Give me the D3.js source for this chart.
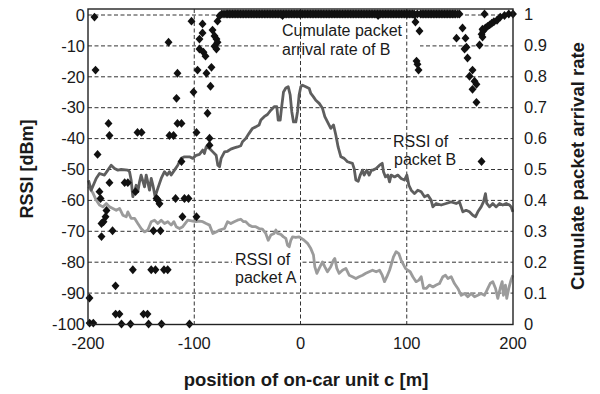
<!DOCTYPE html>
<html>
<head>
<meta charset="utf-8">
<script src="https://cdn.jsdelivr.net/npm/d3@7"></script>
<style>
  body { margin: 0; background: #fff; }
  svg text { font-family: "Liberation Sans", Arial, Helvetica, sans-serif; fill: #1a1a1a; }
</style>
</head>
<body>
<svg id="chart" width="600" height="394"></svg>
<script>
/************************************ Data *******************************/
var xTicks = [-200, -100, 0, 100, 200];
var yTicks = [0, -10, -20, -30, -40, -50, -60, -70, -80, -90, -100];
var rateTicks = [1, 0.9, 0.8, 0.7, 0.6, 0.5, 0.4, 0.3, 0.2, 0.1, 0];
var rateTickLabels = ["1", "0.9", "0.8", "0.7", "0.6", "0.5", "0.4", "0.3", "0.2", "0.1", "0"];

// RSSI of packet B  [position m, dBm]
var rssiB = [[-199.5,-53.5],[-197,-56.7],[-192.3,-52.9],[-189.2,-51.3],[-184.5,-51.8],[-181.3,-50.2],[-178.2,-48.6],
  [-175,-49.7],[-171.9,-50.2],[-168.8,-50],[-162.5,-50.2],[-160.9,-50.7],[-159.4,-53.4],[-157.8,-58.8],[-156.2,-57.2],
  [-154.7,-55.1],[-153.1,-57.2],[-151.5,-54],[-150,-51.8],[-146.8,-55.6],[-145.2,-51.8],[-142.1,-56.7],[-140.5,-52.9],
  [-138.9,-55.1],[-136.8,-58.8],[-134.3,-56.1],[-131.1,-52.9],[-128,-50.7],[-125.5,-51.8],[-123.3,-50.7],[-121.7,-51.8],
  [-118.6,-50.2],[-115.5,-48.6],[-112.3,-46.4],[-109.2,-45.9],[-104.5,-45.9],[-101.4,-46.4],[-98.2,-45.4],[-95.1,-45.1],
  [-92,-43.7],[-90.4,-44.8],[-88.8,-42.7],[-85.6,-43.2],[-82.5,-44.3],[-79.4,-45.4],[-77.8,-48.6],[-76.2,-49.1],
  [-74.7,-46.4],[-71.5,-44.3],[-68.7,-44.1],[-65.6,-43.4],[-62.4,-43],[-59.3,-42.7],[-56.2,-42.3],[-54.6,-41],
  [-51.5,-40],[-48.4,-38.3],[-45.2,-36.7],[-42.1,-36.2],[-39,-35.6],[-37.3,-34],[-34.2,-32.9],[-31.1,-32.2],
  [-27.9,-30.8],[-24.8,-29.7],[-22.3,-29.7],[-21,-34],[-19.1,-34],[-17.9,-30.2],[-16,-24.9],[-13.8,-23.6],
  [-11.6,-23.2],[-9.7,-25.9],[-8.2,-31.3],[-6.6,-34.6],[-4.4,-34.6],[-2.8,-31.3],[-1.3,-25.9],[0.3,-23.2],
  [1.9,-22.7],[5,-23.2],[8.2,-23.8],[9.7,-25.4],[12.2,-26.5],[14.4,-27.6],[17.6,-28.6],[20.7,-30.2],[22.9,-32.9],
  [25.4,-34.6],[28.5,-36.7],[31.1,-35.6],[33.3,-38.9],[35.4,-42.7],[38,-45.9],[41.1,-46.4],[44.2,-47.5],[48.9,-48],
  [50.5,-49.7],[52.1,-53.4],[54.3,-53.8],[56.2,-51.8],[58.4,-50.2],[59.9,-51.8],[62.4,-50.2],[64.6,-51.8],[66.8,-50.2],
  [68.1,-50.2],[71.2,-49.7],[74.4,-48.6],[76.9,-48],[78.1,-50.7],[80,-52.4],[82.2,-51.8],[83.8,-54],[85.3,-51.8],
  [88.5,-52.4],[91.6,-51.8],[94.7,-52.9],[97.9,-53.4],[100.1,-51.8],[102,-55.1],[104.2,-56.7],[107.3,-57.8],
  [110.4,-56.7],[113.6,-57.2],[116.7,-58.8],[119.8,-58.3],[122.9,-59.9],[124.6,-62.1],[127.7,-61],[132.4,-61.5],
  [137.1,-61],[141.8,-60.5],[146.5,-61],[149.6,-60.5],[152.8,-63.7],[155.9,-63.2],[159,-63.7],[162.2,-64.8],
  [164.7,-65.3],[166.9,-63.7],[170,-62.1],[172.2,-60.5],[174.1,-57.8],[175.3,-61],[177.9,-62.1],[181,-61],
  [184.2,-62.1],[187.3,-61],[190.4,-61.5],[193.6,-61],[196.7,-61.5],[198.3,-62.1],[199.8,-63.7]];

// RSSI of packet A  [position m, dBm]
var rssiA = [[-199.5,-55.5],[-195.5,-57.5],[-192.3,-59.9],[-189.2,-61.5],[-186,-62.1],[-182.8,-61],[-179.7,-62.1],
  [-176.6,-62.6],[-173.4,-63.2],[-170.3,-62.6],[-167.2,-64.8],[-164,-65.3],[-162.5,-63.7],[-159.4,-65.8],[-156.2,-65.8],
  [-153.1,-67.5],[-150,-69.1],[-146.8,-70.2],[-143.7,-69.6],[-140.5,-66.9],[-137.4,-66.4],[-134.3,-67.5],[-131.1,-66.4],
  [-128,-67.5],[-124.9,-66.9],[-121.7,-68],[-119.2,-66.9],[-117,-68.5],[-113.9,-69.1],[-110.8,-68.5],[-106.1,-66.4],
  [-101.4,-66.7],[-98.2,-66.9],[-95.1,-66.7],[-92,-66.9],[-88.8,-67.5],[-85.6,-68],[-82.5,-70.7],[-79.4,-70.2],
  [-76.2,-69.6],[-71.5,-69.1],[-68.7,-66.9],[-65.6,-67.5],[-62.4,-66.9],[-59.3,-66.4],[-56.2,-66.1],[-53.6,-66.9],
  [-51.5,-66.9],[-48.4,-68],[-45.2,-68.5],[-42.1,-68.5],[-39,-69.1],[-35.8,-69.3],[-32.7,-70.7],[-30.4,-72.9],
  [-27.9,-71.2],[-24.8,-70.7],[-23.2,-69.6],[-21.6,-70.7],[-18.5,-71],[-16,-71.8],[-13.8,-72.3],[-12.2,-74.5],
  [-10.6,-75],[-9.1,-72.9],[-7.5,-71.8],[-4.4,-72],[-1.3,-71.8],[0.9,-72.3],[3.4,-72.9],[6.6,-73.9],[9.7,-75.6],
  [12.2,-77.7],[13.5,-81.5],[15.4,-83.6],[17.6,-82],[20.7,-79.9],[22.9,-81.5],[25.4,-83.1],[28.5,-81.5],[31.1,-79.3],
  [32.3,-78.8],[34.2,-82],[36.4,-83.6],[39.5,-82.6],[42.7,-82],[45.8,-84.2],[48.9,-84.7],[52.1,-85.3],[55.2,-84.7],
  [58.4,-84.2],[61.5,-83.6],[64.6,-83.1],[67.8,-82.6],[71.2,-83.1],[74.4,-82.6],[76.9,-84.2],[79.1,-86.3],[81.3,-84.7],
  [83.8,-82.6],[85.3,-80.9],[87.5,-78.3],[90,-76.6],[92.5,-77.2],[94.7,-79.3],[96.3,-80.4],[98.8,-82],[101,-82.6],
  [103.2,-83.1],[105.7,-84.7],[108.8,-86.3],[111.4,-85.8],[113.6,-84.7],[115.8,-88.5],[118.3,-88.5],[121.4,-87.4],
  [124.6,-88],[127.7,-87.4],[130.8,-86.9],[134,-84.7],[136.5,-84.2],[138.7,-85.3],[141.8,-84.7],[144.9,-86.9],
  [148.1,-88.5],[151.3,-90.7],[154.4,-90.1],[157.5,-91.2],[160.6,-90.1],[163.8,-91.2],[166.9,-90.7],[170,-90.1],
  [173.2,-90.7],[176.3,-88.5],[178.5,-86.9],[181,-86.3],[183.6,-88.5],[185.7,-91.7],[187.9,-88.5],[189.8,-86.3],
  [191,-90.7],[192.9,-87.4],[194.1,-91.7],[196,-88.5],[198.1,-85.8],[199.8,-84.2]];

// cumulate packet arrival rate of B, scattered points [position m, rate]
var rateB = [[-193.9,0.99],[-124.2,0.909],[-102.6,0.977],[-92.2,0.968],[-92.2,0.939],[-95.1,0.919],[-82.8,0.948],
  [-80.9,0.929],[-79.1,0.919],[-78.1,0.909],[-80.9,0.896],[-79.1,0.887],[-95.1,0.887],[-91.3,0.877],[-89.4,0.864],
  [-78.1,0.977],[-76.2,0.994],[-192.9,0.819],[-115.8,0.809],[-96.9,0.819],[-88.5,0.809],[-83.8,0.828],[-84.7,0.767],
  [-100.7,0.748],[-116.7,0.728],[-87.5,0.68],[-180.7,0.647],[-179.8,0.608],[-153.4,0.618],[-149.6,0.618],
  [-115.8,0.647],[-112,0.647],[-123.3,0.608],[-119.5,0.608],[-97.9,0.618],[-85.6,0.599],[-85.6,0.577],[-191,0.547],
  [-112,0.524],[-179.8,0.456],[-165.5,0.456],[-162.5,0.456],[-189.2,0.427],[-188.2,0.405],[-155.3,0.427],
  [-135.5,0.405],[-134.3,0.401],[-117.6,0.405],[-109.2,0.405],[-105.4,0.405],[-132.7,0.388],[-182.6,0.366],
  [-183.5,0.346],[-185.4,0.33],[-187.3,0.324],[-111.1,0.346],[-97.9,0.346],[-176.9,0.301],[-138.4,0.301],
  [-131.8,0.301],[-187.3,0.282],[-157.8,0.175],[-140.5,0.175],[-136.5,0.175],[-128.5,0.175],[-125,0.175],
  [-174.1,0.123],[-198.6,0.084],[-174,0.032],[-170.4,0.032],[-147.8,0.032],[-144,0.032],[-198.5,0.003],
  [-195,0.003],[-168.5,0],[-160,0],[-143,0],[-130.8,0],[-104.5,0],
  [107.3,0.997],[108.2,0.974],[112,0.945],[109.2,0.848],[110.1,0.838],[111.1,0.819],[170.4,0.524],
  [149.6,1],[152.5,0.955],[155.3,0.922],[156.2,0.893],[154.4,0.887],[146.8,0.922],[157.2,0.858],[161.9,0.819],
  [159.1,0.799],[163.8,0.783],[165.6,0.773],[161.9,0.757],[165.6,0.715],
  [173.2,1],[171.3,0.951],[170.4,0.935],[171.3,0.926],[168.5,0.9],[172,0.945],[174,0.955],[176,0.96],[178,0.965],
  [180,0.97],[182,0.975],[185,0.98],[188,0.99],[192,0.995],[196,1],[200,1],[-16.9,0.995],[73,0.995]];

// positions where every packet of B arrived (rate = 1), the thick band at the top
var fullRateX = [-74,-72,-70,-68.5,-67,-65.5,-64,-62.5,-61,-59.5,-58,-56.5,-55,-53.5,-52,-50.5,-49,-47.5,-46,-44.5,
  -43,-41.5,-40,-38.5,-37,-35.5,-34,-32.5,-31,-29.5,-28,-26.5,-25,-23.5,-22,-20.5,-19,-17.5,-16,-14.5,-13,-11.5,-10,
  -8.5,-7,-5.5,-4,-2.5,-1,0.5,2,3.5,5,6.5,8,9.5,11,12.5,14,15.5,17,18.5,20,21.5,23,24.5,26,27.5,29,30.5,32,33.5,35,
  36.5,38,39.5,41,42.5,44,45.5,47,48.5,50,51.5,53,54.5,56,57.5,59,60.5,62,63.5,65,66.5,68,69.5,71,72.5,74,75.5,77,
  78.5,80,81.5,83,84.5,86,87.5,89,90.5,92,93.5,95,96.5,98,99.5,101,102.5,104,105.5,107,110,113,114.5,116,117.5,119,
  120.5,122,123.5,125,126.5,128,129.5,131,132.5,134,135.5,137,138.5,140,141.5,143,144.5,146,148];

/************************************ Scales *******************************/
var svg = d3.select("#chart");
var left = 88, right = 513, frameTop = 9, bottom = 324;

var x = d3.scaleLinear().domain([-200, 200]).range([left, right]);
var y = d3.scaleLinear().domain([-100, 0]).range([bottom, 15]);
var yRate = d3.scaleLinear().domain([0, 1]).range([bottom, 14]);

var dash = "4,2.5";

/************************************ Grid *******************************/
svg.append("g").selectAll("line").data(yTicks.filter(function(d){ return d > -100; }))
  .enter().append("line")
    .attr("x1", left).attr("x2", right)
    .attr("y1", function(d){ return y(d); }).attr("y2", function(d){ return y(d); })
    .attr("stroke", "#333").attr("stroke-width", 1).attr("stroke-dasharray", dash);

// white boxes of the text labels hide the horizontal grid
var labelBoxes = [[279, 21, 141, 39], [232, 251, 68, 37], [391, 133, 68, 37]];
svg.append("g").selectAll("rect").data(labelBoxes).enter().append("rect")
  .attr("x", function(d){ return d[0]; }).attr("y", function(d){ return d[1]; })
  .attr("width", function(d){ return d[2]; }).attr("height", function(d){ return d[3]; })
  .attr("fill", "#fff");

svg.append("g").selectAll("line").data([-100, 0, 100])
  .enter().append("line")
    .attr("x1", function(d){ return x(d); }).attr("x2", function(d){ return x(d); })
    .attr("y1", frameTop).attr("y2", bottom)
    .attr("stroke", "#333").attr("stroke-width", 1).attr("stroke-dasharray", dash);

/************************************ Series *******************************/
var line = d3.line()
  .x(function(d){ return x(d[0]); })
  .y(function(d){ return y(d[1]); });

svg.append("path").datum(rssiA)
  .attr("d", line).attr("fill", "none")
  .attr("stroke", "#9b9b9b").attr("stroke-width", 2.8).attr("stroke-linejoin", "round");

svg.append("path").datum(rssiB)
  .attr("d", line).attr("fill", "none")
  .attr("stroke", "#5e5e5e").attr("stroke-width", 2.8).attr("stroke-linejoin", "round");

var diamond = d3.symbol().type(d3.symbolDiamond2).size(40);
var allRate = rateB.concat(fullRateX.map(function(v){ return [v, 1]; }));
svg.append("g").selectAll("path").data(allRate).enter().append("path")
  .attr("d", diamond)
  .attr("transform", function(d){ return "translate(" + x(d[0]) + "," + yRate(d[1]) + ") scale(1,1.12)"; })
  .attr("fill", "#111");

/************************************ Frame + axes *******************************/
svg.append("rect")
  .attr("x", left).attr("y", frameTop)
  .attr("width", right - left).attr("height", bottom - frameTop + 0.5)
  .attr("fill", "none").attr("stroke", "#222").attr("stroke-width", 1.4);

var ax = svg.append("g").attr("font-size", 16.5);
ax.selectAll(".yl").data(yTicks).enter().append("text")
  .attr("x", left - 3).attr("y", function(d){ return y(d); })
  .attr("dy", "0.35em").attr("text-anchor", "end").text(function(d){ return d; });

ax.selectAll(".rl").data(rateTicks).enter().append("text")
  .attr("x", right + 11).attr("y", function(d){ return yRate(d); })
  .attr("dy", "0.35em").attr("text-anchor", "start")
  .text(function(d, i){ return rateTickLabels[i]; });

ax.selectAll(".xl").data(xTicks).enter().append("text")
  .attr("x", function(d){ return x(d); }).attr("y", 349)
  .attr("text-anchor", "middle").text(function(d){ return d; });

/************************************ Titles + labels *******************************/
svg.append("text").attr("transform", "translate(33,169) rotate(-90)")
  .attr("text-anchor", "middle").attr("font-weight", "bold").attr("font-size", 18)
  .text("RSSI [dBm]");

svg.append("text").attr("transform", "translate(584,166) rotate(-90)")
  .attr("text-anchor", "middle").attr("font-weight", "bold").attr("font-size", 18.5)
  .text("Cumulate packet arrival rate");

svg.append("text").attr("x", 306).attr("y", 386)
  .attr("text-anchor", "middle").attr("font-weight", "bold").attr("font-size", 18.5)
  .text("position of on-car unit c [m]");

var notes = [
  {x: 282, y: 36, t: "Cumulate packet"}, {x: 282, y: 55, t: "arrival rate of B"},
  {x: 393, y: 147, t: "RSSI of"}, {x: 394, y: 165, t: "packet B"},
  {x: 235, y: 265, t: "RSSI of"}, {x: 235, y: 283, t: "packet A"}
];
svg.append("g").attr("font-size", 16).selectAll("text").data(notes).enter().append("text")
  .attr("x", function(d){ return d.x; }).attr("y", function(d){ return d.y; })
  .text(function(d){ return d.t; });
</script>
</body>
</html>
